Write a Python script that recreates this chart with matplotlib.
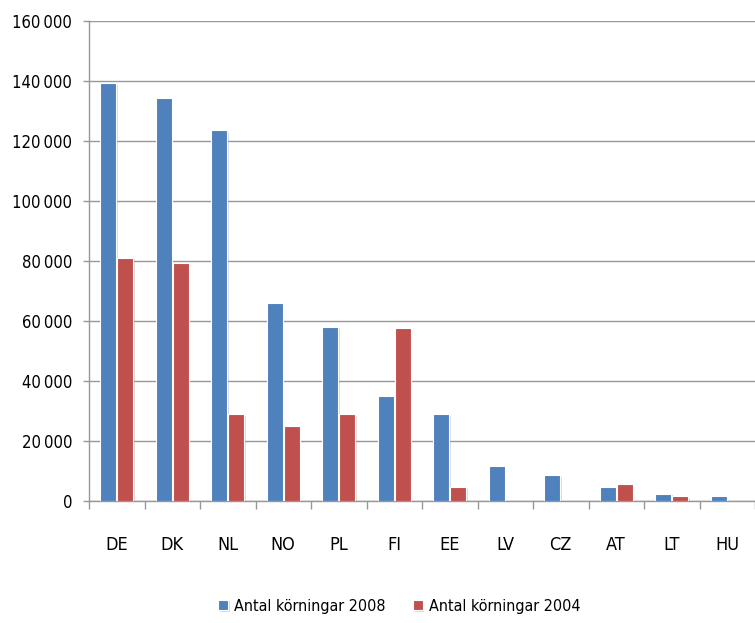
import matplotlib
matplotlib.use("Agg")
import matplotlib.pyplot as plt
import matplotlib.patheffects as pe
import numpy as np
from matplotlib.ticker import FuncFormatter, MultipleLocator

# Antal körningar per land
countries = ["DE", "DK", "NL", "NO", "PL", "FI", "EE", "LV", "CZ", "AT", "LT", "HU"]
runs_2008 = [139200, 134100, 123400, 65900, 58000, 35000, 28900, 11800, 8700, 4700, 2400, 1500]
runs_2004 = [81000, 79400, 28900, 25000, 28900, 57500, 4700, 0, 0, 5700, 1500, 0]
series_labels = ["Antal körningar 2008", "Antal körningar 2004"]

plt.rcParams["font.family"] = ["DejaVu Sans"]
plt.rcParams["font.stretch"] = "condensed"

BLUE = "#4F81BD"
RED = "#C0504D"
AXIS_GREY = "#989898"

fig = plt.figure(figsize=(7.55, 6.23), dpi=100)
ax = fig.add_axes([89 / 755, 1 - 501 / 623, 1 - 89 / 755, (501 - 20.5) / 623])

x = np.arange(len(countries))
width = 0.28
offset = 0.153
shadow = [pe.SimplePatchShadow(offset=(1.2, -1.2), shadow_rgbFace="#9a9a9a", alpha=0.35), pe.Normal()]

b1 = ax.bar(x - offset, runs_2008, width, color=BLUE, edgecolor="white",
            linewidth=0.8, label=series_labels[0], zorder=3)
b2 = ax.bar(x + offset, runs_2004, width, color=RED, edgecolor="white",
            linewidth=0.8, label=series_labels[1], zorder=3)
for bars in (b1, b2):
    for p in bars:
        if p.get_height() > 0:
            p.set_path_effects(shadow)
        else:
            p.set_visible(False)

ax.set_xlim(-0.5, len(countries) - 0.5)
ax.set_ylim(0, 160000)

ax.yaxis.set_major_locator(MultipleLocator(20000))
ax.yaxis.set_major_formatter(FuncFormatter(
    lambda v, _: "0" if v == 0 else f"{int(v):,}".replace(",", "\u2009")))
ax.grid(axis="y", color=AXIS_GREY, linewidth=1.0, zorder=0)
ax.set_axisbelow(True)

ax.set_xticks(x)
ax.set_xticklabels(countries)
ax.set_xticks(np.arange(-0.5, len(countries) + 0.5, 1), minor=True)
ax.tick_params(axis="x", which="major", length=0, pad=25, labelsize=13)
ax.tick_params(axis="x", which="minor", length=6, width=1, color=AXIS_GREY, direction="out")
ax.tick_params(axis="y", length=4.5, width=1, color=AXIS_GREY, pad=7.5, labelsize=12)

for side in ("top", "right"):
    ax.spines[side].set_visible(False)
for side in ("left", "bottom"):
    ax.spines[side].set_color(AXIS_GREY)
    ax.spines[side].set_linewidth(1.0)

leg = fig.legend(handles=[b1, b2], labels=series_labels, loc="center",
                 bbox_to_anchor=(0.529, 1 - 606 / 623), ncol=2, frameon=False,
                 fontsize=11.5, handlelength=0.6, handleheight=0.6,
                 handletextpad=0.4, columnspacing=1.7)

fig.savefig("out.png", dpi=100, facecolor="white")
